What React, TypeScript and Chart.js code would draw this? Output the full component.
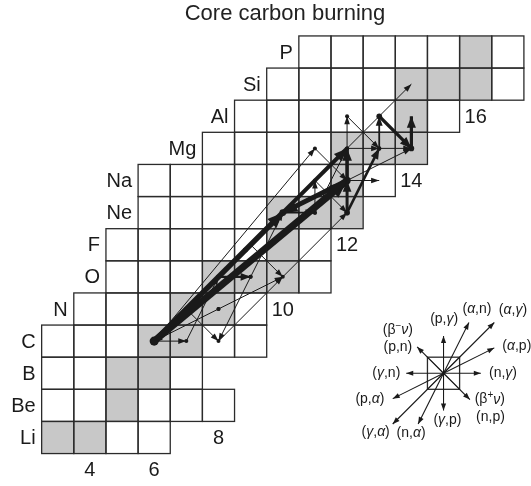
import React, { useEffect, useRef } from 'react';
import { Chart, registerables } from 'chart.js';

Chart.register(...registerables);

// ---------------- data ----------------
const chartTitle = 'Core carbon burning';
const elementSymbols = ['Li', 'Be', 'B', 'C', 'N', 'O', 'F', 'Ne', 'Na', 'Mg', 'Al', 'Si', 'P'];
const protonNumbers = [3, 4, 5, 6, 7, 8, 9, 10, 11, 12, 13, 14, 15];
const firstNeutron = [3, 3, 3, 3, 4, 5, 5, 6, 6, 8, 9, 10, 11];
const lastNeutron = [6, 8, 7, 9, 9, 11, 11, 12, 13, 14, 15, 17, 17];
const stableNuclides = [
  '6Li', '7Li', '9Be', '10B', '11B', '12C', '13C', '14N', '15N', '16O', '17O', '18O', '19F',
  '20Ne', '21Ne', '22Ne', '23Na', '24Mg', '25Mg', '26Mg', '27Al', '28Si', '29Si', '30Si', '31P',
];
const neutronTickValues = [4, 6, 8, 10, 12, 14, 16];

const flowFrom = [
  '12C', '12C', '23Na', '20Ne', '23Na', '22Ne', '22Ne', '25Mg', '26Al', '26Mg', '16O', '20Ne',
  '12C', '12C', '23Mg', '24Mg', '25Al', '24Mg', '24Mg', '25Mg', '23Na', '23Na', '21Ne', '22Na',
  '18O', '14N', '17O', '14C', '15N', '15N', '13C', '17O', '21Ne', '14N', '18F',
];
const flowTo = [
  '20Ne', '23Na', '20Ne', '24Mg', '24Mg', '23Na', '25Mg', '26Al', '26Mg', '27Al', '17O', '21Ne',
  '13C', '23Mg', '23Na', '25Al', '25Mg', '28Si', '25Mg', '26Mg', '26Mg', '24Na', '22Na', '22Ne',
  '22Ne', '14C', '14C', '18O', '12C', '18O', '16O', '20Ne', '24Mg', '18F', '18O',
];
const flowWeight = [
  5.5, 7, 5, 4.2, 3.6, 3, 2.6, 1.8, 3.2, 3.2, 2.2, 1.8,
  1, 1, 1, 1, 1, 1, 1, 1, 1, 1, 1, 1,
  1, 1, 1, 1, 1, 1, 1, 1, 1, 1, 1,
];

const legendReactions = [
  '(p,γ)', '(α,n)', '(α,γ)', '(α,p)', '(n,γ)', '(β⁺ν)|(n,p)',
  '(γ,p)', '(n,α)', '(γ,α)', '(p,α)', '(γ,n)', '(β⁻ν)|(p,n)',
];
const legendDeltaN = [0, 1, 2, 2, 1, 1, 0, -1, -2, -2, -1, -1];
const legendDeltaZ = [1, 2, 2, 1, 0, -1, -1, -2, -2, -1, 0, 1];

// ---------------- layout / style ----------------
const FONT = '"Liberation Sans", Arial, Helvetica, sans-serif';
const INK = '#1a1a1a';
const GRID = '#2b2b2b';
const STABLE_FILL = '#c8c8c8';
const legendCenter = { n: 15, z: 5 };
// label anchor offsets in cell units (x right, y down); two lines where '|' present
const legendLabelOffsets = [
  [[0.02, -1.68]], [[1.04, -2.0]], [[2.16, -1.95]], [[2.28, -0.85]], [[1.85, 0]],
  [[1.44, 0.82], [1.46, 1.37]], [[0.12, 1.47]], [[-1.01, 1.85]], [[-2.11, 1.83]],
  [[-2.29, 0.8]], [[-1.78, 0]], [[-1.42, -1.33], [-1.42, -0.82]],
];

function nuclide(name: string) {
  const m = name.match(/^(\d+)([A-Za-z]+)$/) as RegExpMatchArray;
  const A = Number(m[1]);
  const Z = protonNumbers[elementSymbols.indexOf(m[2])];
  return { x: A - Z, y: Z };
}

const stableSet = new Set(stableNuclides);

function drawRichText(ctx: CanvasRenderingContext2D, text: string, cx: number, cy: number, size: number) {
  const runs: { t: string; font: string; dy: number; w: number }[] = [];
  for (const ch of Array.from(text)) {
    if (ch === '⁻' || ch === '⁺') {
      runs.push({ t: ch === '⁻' ? '−' : '+', font: `${Math.round(size * 0.7)}px ${FONT}`, dy: -size * 0.33, w: 0 });
    } else if ('αγν'.includes(ch)) {
      runs.push({ t: ch, font: `italic ${size}px ${FONT}`, dy: 0, w: 0 });
    } else {
      runs.push({ t: ch, font: `${size}px ${FONT}`, dy: 0, w: 0 });
    }
  }
  let total = 0;
  for (const r of runs) {
    ctx.font = r.font;
    r.w = ctx.measureText(r.t).width;
    total += r.w;
  }
  let x = cx - total / 2;
  ctx.textAlign = 'left';
  ctx.textBaseline = 'middle';
  for (const r of runs) {
    ctx.font = r.font;
    ctx.fillText(r.t, x, cy + r.dy);
    x += r.w;
  }
}

function arrowHead(ctx: CanvasRenderingContext2D, fx: number, fy: number, tx: number, ty: number, len: number, hw: number) {
  const dx = tx - fx, dy = ty - fy;
  const d = Math.hypot(dx, dy) || 1;
  const ux = dx / d, uy = dy / d;
  const bx = tx - ux * len, by = ty - uy * len;
  ctx.beginPath();
  ctx.moveTo(tx, ty);
  ctx.lineTo(bx - uy * hw, by + ux * hw);
  ctx.lineTo(bx + uy * hw, by - ux * hw);
  ctx.closePath();
  ctx.fill();
}

const nuclidePlugin = {
  id: 'nuclideChart',
  beforeDatasetsDraw(chart: any) {
    const { ctx } = chart;
    const xs = chart.scales.x;
    const ys = chart.scales.y;
    ctx.save();
    // cell fills
    protonNumbers.forEach((Z, i) => {
      for (let N = firstNeutron[i]; N <= lastNeutron[i]; N++) {
        const x0 = xs.getPixelForValue(N - 0.5), x1 = xs.getPixelForValue(N + 0.5);
        const y0 = ys.getPixelForValue(Z + 0.5), y1 = ys.getPixelForValue(Z - 0.5);
        ctx.fillStyle = stableSet.has(`${N + Z}${elementSymbols[i]}`) ? STABLE_FILL : '#ffffff';
        ctx.fillRect(x0, y0, x1 - x0, y1 - y0);
      }
    });
    // cell outlines
    ctx.strokeStyle = GRID;
    ctx.lineWidth = 1.3;
    protonNumbers.forEach((Z, i) => {
      for (let N = firstNeutron[i]; N <= lastNeutron[i]; N++) {
        const x0 = xs.getPixelForValue(N - 0.5), x1 = xs.getPixelForValue(N + 0.5);
        const y0 = ys.getPixelForValue(Z + 0.5), y1 = ys.getPixelForValue(Z - 0.5);
        ctx.strokeRect(x0, y0, x1 - x0, y1 - y0);
      }
    });
    // element labels
    ctx.fillStyle = INK;
    ctx.font = `20px ${FONT}`;
    ctx.textAlign = 'right';
    ctx.textBaseline = 'middle';
    protonNumbers.forEach((Z, i) => {
      ctx.fillText(elementSymbols[i], xs.getPixelForValue(firstNeutron[i] - 0.5) - 6, ys.getPixelForValue(Z) + 1);
    });
    // neutron number labels, placed just below the lowest row reaching that N
    ctx.textAlign = 'center';
    neutronTickValues.forEach((n) => {
      let zRow = 99;
      protonNumbers.forEach((Z, i) => {
        if (firstNeutron[i] <= n && lastNeutron[i] >= n && Z < zRow) zRow = Z;
      });
      ctx.fillText(String(n), xs.getPixelForValue(n), ys.getPixelForValue(zRow - 1) + 1);
    });
    ctx.restore();
  },
  afterDatasetsDraw(chart: any) {
    const { ctx } = chart;
    const xs = chart.scales.x;
    const ys = chart.scales.y;
    ctx.save();
    ctx.fillStyle = INK;
    // flow arrowheads
    flowFrom.forEach((f, i) => {
      const a = nuclide(f), b = nuclide(flowTo[i]);
      const w = flowWeight[i];
      arrowHead(ctx, xs.getPixelForValue(a.x), ys.getPixelForValue(a.y),
        xs.getPixelForValue(b.x), ys.getPixelForValue(b.y), 6.5 + 1.6 * w, 2 + 0.8 * w);
    });
    // reaction legend
    const cx = xs.getPixelForValue(legendCenter.n);
    const cy = ys.getPixelForValue(legendCenter.z);
    const cell = xs.getPixelForValue(1) - xs.getPixelForValue(0);
    const x0 = xs.getPixelForValue(legendCenter.n - 0.5), x1 = xs.getPixelForValue(legendCenter.n + 0.5);
    const y0 = ys.getPixelForValue(legendCenter.z + 0.5), y1 = ys.getPixelForValue(legendCenter.z - 0.5);
    ctx.strokeStyle = GRID;
    ctx.lineWidth = 1.3;
    ctx.strokeRect(x0, y0, x1 - x0, y1 - y0);
    ctx.lineWidth = 1;
    ctx.beginPath();
    ctx.moveTo(x0, y0); ctx.lineTo(x1, y1);
    ctx.moveTo(x1, y0); ctx.lineTo(x0, y1);
    ctx.stroke();
    ctx.strokeStyle = INK;
    ctx.lineWidth = 1.1;
    legendReactions.forEach((label, i) => {
      const dn = legendDeltaN[i], dz = legendDeltaZ[i];
      const twoStep = Math.max(Math.abs(dn), Math.abs(dz)) > 1;
      const k = twoStep ? 0.79 : 1.16 / Math.hypot(dn, dz);
      const tx = xs.getPixelForValue(legendCenter.n + dn * k);
      const ty = ys.getPixelForValue(legendCenter.z + dz * k);
      ctx.beginPath();
      ctx.moveTo(cx, cy);
      ctx.lineTo(tx, ty);
      ctx.stroke();
      arrowHead(ctx, cx, cy, tx, ty, 7, 2.6);
      label.split('|').forEach((line, j) => {
        const off = legendLabelOffsets[i][j];
        drawRichText(ctx, line, cx + off[0] * cell, cy + off[1] * cell, 14);
      });
    });
    ctx.restore();
  },
};

export default function App() {
  const canvasRef = useRef<HTMLCanvasElement | null>(null);

  useEffect(() => {
    const canvas = canvasRef.current;
    if (!canvas) return;
    const datasets = flowFrom.map((f, i) => {
      const w = flowWeight[i];
      return {
        label: `${f}→${flowTo[i]}`,
        data: [nuclide(f), nuclide(flowTo[i])],
        showLine: true,
        borderColor: INK,
        backgroundColor: INK,
        borderWidth: w,
        pointRadius: [w <= 1 ? 2 : 1.4 + 0.45 * w, 0],
        pointBorderWidth: 0,
        pointBackgroundColor: INK,
        pointHoverRadius: 0,
        clip: false,
      };
    });
    const chart = new Chart(canvas, {
      type: 'scatter',
      data: { datasets } as any,
      options: {
        animation: false,
        responsive: false,
        devicePixelRatio: 1,
        events: [],
        layout: { padding: { left: 39, right: 0, top: 0, bottom: 0 } },
        plugins: {
          legend: { display: false },
          tooltip: { enabled: false },
          title: {
            display: true,
            text: chartTitle,
            color: '#222',
            font: { family: FONT, size: 22, weight: 'normal', lineHeight: 1.2 },
            padding: { top: 1, bottom: 5 },
          },
        },
        scales: {
          x: { type: 'linear', display: false, min: 2.4176, max: 17.5794, bounds: 'data' },
          y: { type: 'linear', display: false, min: 1.6318, max: 15.6102, bounds: 'data' },
        },
      } as any,
      plugins: [nuclidePlugin],
    });
    return () => chart.destroy();
  }, []);

  return (
    <div style={{ position: 'fixed', left: 0, top: 0, width: 531, height: 486, background: '#fff' }}>
      <canvas ref={canvasRef} width={531} height={486} style={{ display: 'block' }} />
    </div>
  );
}
